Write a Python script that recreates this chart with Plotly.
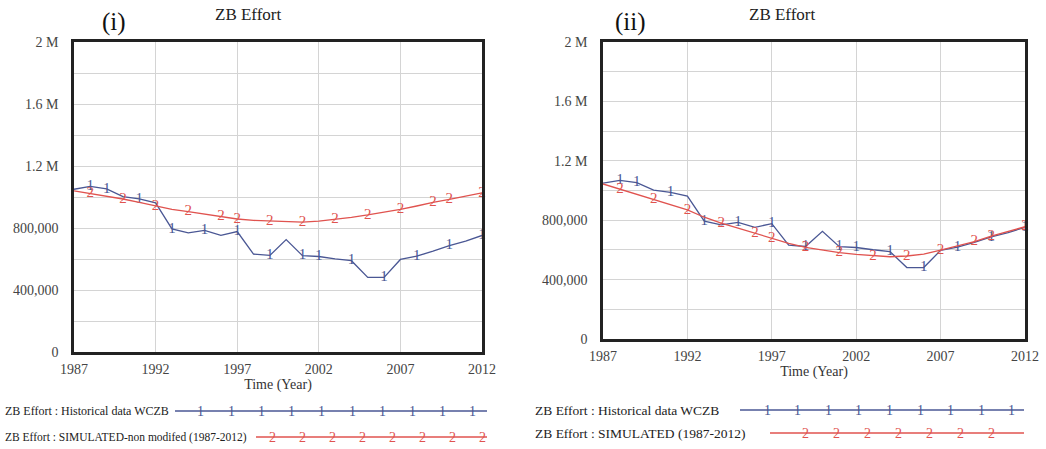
import plotly.graph_objects as go

# ---------------- data ----------------
years = list(range(1987, 2013))

hist_wczb = [1.050e6, 1.068e6, 1.053e6, 1.003e6, 0.988e6, 0.962e6, 0.794e6, 0.769e6,
             0.785e6, 0.752e6, 0.777e6, 0.632e6, 0.623e6, 0.725e6, 0.622e6, 0.616e6,
             0.601e6, 0.589e6, 0.481e6, 0.481e6, 0.597e6, 0.618e6, 0.651e6, 0.687e6,
             0.716e6, 0.752e6]

sim_non_modified = [1.040e6, 1.023e6, 1.006e6, 0.987e6, 0.966e6, 0.942e6, 0.920e6, 0.905e6,
                    0.888e6, 0.873e6, 0.858e6, 0.849e6, 0.845e6, 0.840e6, 0.838e6, 0.845e6,
                    0.856e6, 0.869e6, 0.884e6, 0.901e6, 0.920e6, 0.942e6, 0.966e6, 0.985e6,
                    1.006e6, 1.027e6]

sim_modified = [1.044e6, 1.010e6, 0.976e6, 0.942e6, 0.908e6, 0.870e6, 0.820e6, 0.780e6,
                0.747e6, 0.712e6, 0.678e6, 0.644e6, 0.617e6, 0.600e6, 0.581e6, 0.570e6,
                0.560e6, 0.554e6, 0.559e6, 0.572e6, 0.598e6, 0.626e6, 0.655e6, 0.692e6,
                0.723e6, 0.756e6]

# years where Vensim-style "1"/"2" markers sit on the lines
hist_marker_years = [1988, 1989, 1991, 1993, 1995, 1997, 1999, 2001, 2002, 2004, 2006, 2008, 2010, 2012]
sim_marker_years = [1988, 1990, 1992, 1994, 1996, 1997, 1999, 2001, 2003, 2005, 2007, 2009, 2010, 2012]

x_ticks = [1987, 1992, 1997, 2002, 2007, 2012]
y_tickvals = [0, 200000, 400000, 600000, 800000, 1000000, 1200000, 1400000, 1600000, 1800000, 2000000]
y_ticktext = ["0", "", "400,000", "", "800,000", "", "1.2 M", "", "1.6 M", "", "2 M"]

legend_hist = "ZB Effort : Historical data WCZB"
legend_sim_i = "ZB Effort : SIMULATED-non modifed (1987-2012)"
legend_sim_ii = "ZB Effort : SIMULATED (1987-2012)"

# ---------------- style ----------------
BLUE = "#4a5794"
RED = "#e0534f"
SERIF = "Liberation Serif, Times New Roman, serif"
W, H = 1046, 449

def marker_text(marks, label):
    return [label if y in marks else "" for y in years]

fig = go.Figure()

panels = [("x", "y", sim_non_modified), ("x2", "y2", sim_modified)]
for xa, ya, sim in panels:
    fig.add_trace(go.Scatter(x=years, y=hist_wczb, xaxis=xa, yaxis=ya, mode="lines+text",
                             text=marker_text(hist_marker_years, "1"), textposition="middle center",
                             textfont=dict(family=SERIF, size=15, color=BLUE),
                             line=dict(color=BLUE, width=1.3), showlegend=False, cliponaxis=False,
                             hoverinfo="skip"))
    fig.add_trace(go.Scatter(x=years, y=sim, xaxis=xa, yaxis=ya, mode="lines+text",
                             text=marker_text(sim_marker_years, "2"), textposition="middle center",
                             textfont=dict(family=SERIF, size=15, color=RED),
                             line=dict(color=RED, width=1.3), showlegend=False, cliponaxis=False,
                             hoverinfo="skip"))

def xaxis_style(domain, anchor):
    return dict(domain=domain, anchor=anchor, range=[1987, 2012], tickvals=x_ticks,
                showgrid=True, gridcolor="#d4d4d4", gridwidth=1, zeroline=False,
                showline=True, linecolor="#222", linewidth=2.5, mirror=True, ticks="",
                ticklabelstandoff=2, automargin=False,
                tickfont=dict(family=SERIF, size=14, color="#444"),
                title=dict(text="Time (Year)", font=dict(family=SERIF, size=14, color="#333"),
                           standoff=3))

def yaxis_style(domain, anchor):
    return dict(domain=domain, anchor=anchor, range=[0, 2000000], tickvals=y_tickvals,
                ticktext=y_ticktext, showgrid=True, gridcolor="#d4d4d4", gridwidth=1,
                zeroline=False, showline=True, linecolor="#222", linewidth=2.5, mirror=True,
                ticks="", ticklabelstandoff=10, automargin=False,
                tickfont=dict(family=SERIF, size=14, color="#444"))

fig.update_layout(
    width=W, height=H, margin=dict(l=0, r=0, t=0, b=0, autoexpand=False),
    paper_bgcolor="white", plot_bgcolor="white",
    xaxis=xaxis_style([74 / W, 482 / W], "y"),
    yaxis=yaxis_style([(H - 352) / H, (H - 42) / H], "x"),
    xaxis2=xaxis_style([603 / W, 1025 / W], "y2"),
    yaxis2=yaxis_style([(H - 339) / H, (H - 42) / H], "x2"),
)

annotations = [
    dict(text="ZB Effort", x=248 / W, y=1 - 15 / H, font=dict(family=SERIF, size=17, color="#222")),
    dict(text="ZB Effort", x=782 / W, y=1 - 15 / H, font=dict(family=SERIF, size=17, color="#222")),
    dict(text="(i)", x=114 / W, y=1 - 22 / H, font=dict(family=SERIF, size=25, color="#111")),
    dict(text="(ii)", x=630 / W, y=1 - 22 / H, font=dict(family=SERIF, size=25, color="#111")),
]
for a in annotations:
    a.update(xref="paper", yref="paper", showarrow=False, xanchor="center", yanchor="middle")

shapes = []

def legend_row(label, x_text, y_px, x0, x1, color, mark, mark_xs, size):
    annotations.append(dict(text=label, x=x_text / W, y=1 - y_px / H, xref="paper", yref="paper",
                            showarrow=False, xanchor="left", yanchor="middle",
                            font=dict(family=SERIF, size=size, color="#222")))
    shapes.append(dict(type="line", xref="paper", yref="paper", x0=x0 / W, x1=x1 / W,
                       y0=1 - y_px / H, y1=1 - y_px / H, line=dict(color=color, width=1.3)))
    for mx in mark_xs:
        annotations.append(dict(text=mark, x=mx / W, y=1 - y_px / H, xref="paper", yref="paper",
                                showarrow=False, xanchor="center", yanchor="middle",
                                font=dict(family=SERIF, size=14, color=color)))

legend_row(legend_hist, 3, 411, 175, 487, BLUE, "1", [201 + 30.2 * i for i in range(10)], 12)
legend_row(legend_sim_i, 3, 437, 256, 487, RED, "2", [272 + 30.1 * i for i in range(8)], 11.5)
legend_row(legend_hist, 533, 410, 740, 1024, BLUE, "1", [767 + 30.6 * i for i in range(9)], 13.5)
legend_row(legend_sim_ii, 533, 433, 770, 1024, RED, "2", [805 + 31 * i for i in range(7)], 13.5)

fig.update_layout(annotations=annotations, shapes=shapes, hovermode=False)
fig.write_html("out.html", config={"displayModeBar": False},
               post_script="document.body.style.margin='0';document.body.style.overflow='hidden';")
